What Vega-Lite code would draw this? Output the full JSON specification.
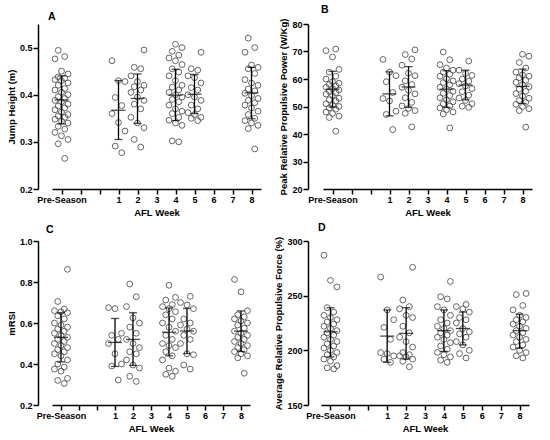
{
  "$schema": "https://vega.github.io/schema/vega-lite/v6.json",
  "padding": {"left": 6, "top": 4, "right": 6, "bottom": 6},
  "background": "white",
  "datasets": {
    "points": [
      {"panel": "A", "week": "Pre-Season", "value": 0.494}, {"panel": "A", "week": "Pre-Season", "value": 0.481}, {"panel": "A", "week": "Pre-Season", "value": 0.476}, {"panel": "A", "week": "Pre-Season", "value": 0.450}, {"panel": "A", "week": "Pre-Season", "value": 0.444}, {"panel": "A", "week": "Pre-Season", "value": 0.438}, {"panel": "A", "week": "Pre-Season", "value": 0.435}, {"panel": "A", "week": "Pre-Season", "value": 0.432}, {"panel": "A", "week": "Pre-Season", "value": 0.430}, {"panel": "A", "week": "Pre-Season", "value": 0.425}, {"panel": "A", "week": "Pre-Season", "value": 0.420}, {"panel": "A", "week": "Pre-Season", "value": 0.413}, {"panel": "A", "week": "Pre-Season", "value": 0.410}, {"panel": "A", "week": "Pre-Season", "value": 0.405}, {"panel": "A", "week": "Pre-Season", "value": 0.400}, {"panel": "A", "week": "Pre-Season", "value": 0.396}, {"panel": "A", "week": "Pre-Season", "value": 0.392}, {"panel": "A", "week": "Pre-Season", "value": 0.388}, {"panel": "A", "week": "Pre-Season", "value": 0.385}, {"panel": "A", "week": "Pre-Season", "value": 0.380}, {"panel": "A", "week": "Pre-Season", "value": 0.376}, {"panel": "A", "week": "Pre-Season", "value": 0.372}, {"panel": "A", "week": "Pre-Season", "value": 0.368}, {"panel": "A", "week": "Pre-Season", "value": 0.363}, {"panel": "A", "week": "Pre-Season", "value": 0.358}, {"panel": "A", "week": "Pre-Season", "value": 0.355}, {"panel": "A", "week": "Pre-Season", "value": 0.352}, {"panel": "A", "week": "Pre-Season", "value": 0.348}, {"panel": "A", "week": "Pre-Season", "value": 0.344}, {"panel": "A", "week": "Pre-Season", "value": 0.340}, {"panel": "A", "week": "Pre-Season", "value": 0.333}, {"panel": "A", "week": "Pre-Season", "value": 0.327}, {"panel": "A", "week": "Pre-Season", "value": 0.320}, {"panel": "A", "week": "Pre-Season", "value": 0.313}, {"panel": "A", "week": "Pre-Season", "value": 0.305}, {"panel": "A", "week": "Pre-Season", "value": 0.296}, {"panel": "A", "week": "Pre-Season", "value": 0.265},
      {"panel": "A", "week": "1", "value": 0.472}, {"panel": "A", "week": "1", "value": 0.430}, {"panel": "A", "week": "1", "value": 0.428}, {"panel": "A", "week": "1", "value": 0.394}, {"panel": "A", "week": "1", "value": 0.377}, {"panel": "A", "week": "1", "value": 0.360}, {"panel": "A", "week": "1", "value": 0.341}, {"panel": "A", "week": "1", "value": 0.323}, {"panel": "A", "week": "1", "value": 0.291}, {"panel": "A", "week": "1", "value": 0.277},
      {"panel": "A", "week": "2", "value": 0.495}, {"panel": "A", "week": "2", "value": 0.458}, {"panel": "A", "week": "2", "value": 0.455}, {"panel": "A", "week": "2", "value": 0.440}, {"panel": "A", "week": "2", "value": 0.428}, {"panel": "A", "week": "2", "value": 0.420}, {"panel": "A", "week": "2", "value": 0.417}, {"panel": "A", "week": "2", "value": 0.410}, {"panel": "A", "week": "2", "value": 0.405}, {"panel": "A", "week": "2", "value": 0.395}, {"panel": "A", "week": "2", "value": 0.388}, {"panel": "A", "week": "2", "value": 0.380}, {"panel": "A", "week": "2", "value": 0.370}, {"panel": "A", "week": "2", "value": 0.352}, {"panel": "A", "week": "2", "value": 0.340}, {"panel": "A", "week": "2", "value": 0.330}, {"panel": "A", "week": "2", "value": 0.305}, {"panel": "A", "week": "2", "value": 0.289},
      {"panel": "A", "week": "4", "value": 0.507}, {"panel": "A", "week": "4", "value": 0.500}, {"panel": "A", "week": "4", "value": 0.492}, {"panel": "A", "week": "4", "value": 0.484}, {"panel": "A", "week": "4", "value": 0.478}, {"panel": "A", "week": "4", "value": 0.472}, {"panel": "A", "week": "4", "value": 0.464}, {"panel": "A", "week": "4", "value": 0.455}, {"panel": "A", "week": "4", "value": 0.448}, {"panel": "A", "week": "4", "value": 0.440}, {"panel": "A", "week": "4", "value": 0.430}, {"panel": "A", "week": "4", "value": 0.420}, {"panel": "A", "week": "4", "value": 0.416}, {"panel": "A", "week": "4", "value": 0.410}, {"panel": "A", "week": "4", "value": 0.405}, {"panel": "A", "week": "4", "value": 0.400}, {"panel": "A", "week": "4", "value": 0.395}, {"panel": "A", "week": "4", "value": 0.390}, {"panel": "A", "week": "4", "value": 0.385}, {"panel": "A", "week": "4", "value": 0.378}, {"panel": "A", "week": "4", "value": 0.370}, {"panel": "A", "week": "4", "value": 0.365}, {"panel": "A", "week": "4", "value": 0.360}, {"panel": "A", "week": "4", "value": 0.352}, {"panel": "A", "week": "4", "value": 0.346}, {"panel": "A", "week": "4", "value": 0.340}, {"panel": "A", "week": "4", "value": 0.335}, {"panel": "A", "week": "4", "value": 0.302}, {"panel": "A", "week": "4", "value": 0.300},
      {"panel": "A", "week": "5", "value": 0.490}, {"panel": "A", "week": "5", "value": 0.455}, {"panel": "A", "week": "5", "value": 0.452}, {"panel": "A", "week": "5", "value": 0.440}, {"panel": "A", "week": "5", "value": 0.436}, {"panel": "A", "week": "5", "value": 0.425}, {"panel": "A", "week": "5", "value": 0.415}, {"panel": "A", "week": "5", "value": 0.410}, {"panel": "A", "week": "5", "value": 0.400}, {"panel": "A", "week": "5", "value": 0.395}, {"panel": "A", "week": "5", "value": 0.388}, {"panel": "A", "week": "5", "value": 0.378}, {"panel": "A", "week": "5", "value": 0.370}, {"panel": "A", "week": "5", "value": 0.362}, {"panel": "A", "week": "5", "value": 0.358}, {"panel": "A", "week": "5", "value": 0.352}, {"panel": "A", "week": "5", "value": 0.350}, {"panel": "A", "week": "5", "value": 0.345},
      {"panel": "A", "week": "8", "value": 0.520}, {"panel": "A", "week": "8", "value": 0.500}, {"panel": "A", "week": "8", "value": 0.490}, {"panel": "A", "week": "8", "value": 0.463}, {"panel": "A", "week": "8", "value": 0.458}, {"panel": "A", "week": "8", "value": 0.455}, {"panel": "A", "week": "8", "value": 0.445}, {"panel": "A", "week": "8", "value": 0.432}, {"panel": "A", "week": "8", "value": 0.425}, {"panel": "A", "week": "8", "value": 0.420}, {"panel": "A", "week": "8", "value": 0.412}, {"panel": "A", "week": "8", "value": 0.408}, {"panel": "A", "week": "8", "value": 0.403}, {"panel": "A", "week": "8", "value": 0.398}, {"panel": "A", "week": "8", "value": 0.392}, {"panel": "A", "week": "8", "value": 0.388}, {"panel": "A", "week": "8", "value": 0.383}, {"panel": "A", "week": "8", "value": 0.378}, {"panel": "A", "week": "8", "value": 0.372}, {"panel": "A", "week": "8", "value": 0.365}, {"panel": "A", "week": "8", "value": 0.358}, {"panel": "A", "week": "8", "value": 0.350}, {"panel": "A", "week": "8", "value": 0.345}, {"panel": "A", "week": "8", "value": 0.340}, {"panel": "A", "week": "8", "value": 0.335}, {"panel": "A", "week": "8", "value": 0.328}, {"panel": "A", "week": "8", "value": 0.285},

      {"panel": "B", "week": "Pre-Season", "value": 70.9}, {"panel": "B", "week": "Pre-Season", "value": 70.3}, {"panel": "B", "week": "Pre-Season", "value": 68.0}, {"panel": "B", "week": "Pre-Season", "value": 63.5}, {"panel": "B", "week": "Pre-Season", "value": 62.5}, {"panel": "B", "week": "Pre-Season", "value": 61.0}, {"panel": "B", "week": "Pre-Season", "value": 60.0}, {"panel": "B", "week": "Pre-Season", "value": 59.0}, {"panel": "B", "week": "Pre-Season", "value": 58.5}, {"panel": "B", "week": "Pre-Season", "value": 58.0}, {"panel": "B", "week": "Pre-Season", "value": 57.5}, {"panel": "B", "week": "Pre-Season", "value": 57.0}, {"panel": "B", "week": "Pre-Season", "value": 56.5}, {"panel": "B", "week": "Pre-Season", "value": 56.0}, {"panel": "B", "week": "Pre-Season", "value": 55.5}, {"panel": "B", "week": "Pre-Season", "value": 55.0}, {"panel": "B", "week": "Pre-Season", "value": 54.5}, {"panel": "B", "week": "Pre-Season", "value": 54.0}, {"panel": "B", "week": "Pre-Season", "value": 53.0}, {"panel": "B", "week": "Pre-Season", "value": 52.5}, {"panel": "B", "week": "Pre-Season", "value": 52.0}, {"panel": "B", "week": "Pre-Season", "value": 51.0}, {"panel": "B", "week": "Pre-Season", "value": 50.5}, {"panel": "B", "week": "Pre-Season", "value": 50.0}, {"panel": "B", "week": "Pre-Season", "value": 49.5}, {"panel": "B", "week": "Pre-Season", "value": 49.0}, {"panel": "B", "week": "Pre-Season", "value": 48.0}, {"panel": "B", "week": "Pre-Season", "value": 47.5}, {"panel": "B", "week": "Pre-Season", "value": 46.5}, {"panel": "B", "week": "Pre-Season", "value": 46.0}, {"panel": "B", "week": "Pre-Season", "value": 41.0},
      {"panel": "B", "week": "1", "value": 67.1}, {"panel": "B", "week": "1", "value": 62.5}, {"panel": "B", "week": "1", "value": 61.2}, {"panel": "B", "week": "1", "value": 59.0}, {"panel": "B", "week": "1", "value": 55.1}, {"panel": "B", "week": "1", "value": 52.9}, {"panel": "B", "week": "1", "value": 52.0}, {"panel": "B", "week": "1", "value": 48.3}, {"panel": "B", "week": "1", "value": 47.1}, {"panel": "B", "week": "1", "value": 41.6},
      {"panel": "B", "week": "2", "value": 70.6}, {"panel": "B", "week": "2", "value": 68.9}, {"panel": "B", "week": "2", "value": 67.3}, {"panel": "B", "week": "2", "value": 65.0}, {"panel": "B", "week": "2", "value": 62.1}, {"panel": "B", "week": "2", "value": 61.2}, {"panel": "B", "week": "2", "value": 59.3}, {"panel": "B", "week": "2", "value": 58.0}, {"panel": "B", "week": "2", "value": 57.0}, {"panel": "B", "week": "2", "value": 55.9}, {"panel": "B", "week": "2", "value": 54.6}, {"panel": "B", "week": "2", "value": 53.2}, {"panel": "B", "week": "2", "value": 51.5}, {"panel": "B", "week": "2", "value": 50.2}, {"panel": "B", "week": "2", "value": 49.3}, {"panel": "B", "week": "2", "value": 48.5}, {"panel": "B", "week": "2", "value": 47.5}, {"panel": "B", "week": "2", "value": 42.6},
      {"panel": "B", "week": "4", "value": 69.8}, {"panel": "B", "week": "4", "value": 67.0}, {"panel": "B", "week": "4", "value": 65.2}, {"panel": "B", "week": "4", "value": 64.0}, {"panel": "B", "week": "4", "value": 63.2}, {"panel": "B", "week": "4", "value": 62.5}, {"panel": "B", "week": "4", "value": 61.7}, {"panel": "B", "week": "4", "value": 61.0}, {"panel": "B", "week": "4", "value": 60.1}, {"panel": "B", "week": "4", "value": 59.3}, {"panel": "B", "week": "4", "value": 58.7}, {"panel": "B", "week": "4", "value": 57.9}, {"panel": "B", "week": "4", "value": 57.0}, {"panel": "B", "week": "4", "value": 56.3}, {"panel": "B", "week": "4", "value": 55.5}, {"panel": "B", "week": "4", "value": 54.8}, {"panel": "B", "week": "4", "value": 54.0}, {"panel": "B", "week": "4", "value": 53.2}, {"panel": "B", "week": "4", "value": 52.4}, {"panel": "B", "week": "4", "value": 51.7}, {"panel": "B", "week": "4", "value": 51.0}, {"panel": "B", "week": "4", "value": 50.2}, {"panel": "B", "week": "4", "value": 49.5}, {"panel": "B", "week": "4", "value": 48.8}, {"panel": "B", "week": "4", "value": 48.0}, {"panel": "B", "week": "4", "value": 47.3}, {"panel": "B", "week": "4", "value": 42.2},
      {"panel": "B", "week": "5", "value": 66.5}, {"panel": "B", "week": "5", "value": 63.2}, {"panel": "B", "week": "5", "value": 62.0}, {"panel": "B", "week": "5", "value": 61.3}, {"panel": "B", "week": "5", "value": 60.0}, {"panel": "B", "week": "5", "value": 59.2}, {"panel": "B", "week": "5", "value": 58.3}, {"panel": "B", "week": "5", "value": 57.5}, {"panel": "B", "week": "5", "value": 56.5}, {"panel": "B", "week": "5", "value": 55.4}, {"panel": "B", "week": "5", "value": 54.1}, {"panel": "B", "week": "5", "value": 53.1}, {"panel": "B", "week": "5", "value": 52.2}, {"panel": "B", "week": "5", "value": 51.0}, {"panel": "B", "week": "5", "value": 50.1}, {"panel": "B", "week": "5", "value": 49.7},
      {"panel": "B", "week": "8", "value": 69.0}, {"panel": "B", "week": "8", "value": 68.3}, {"panel": "B", "week": "8", "value": 66.0}, {"panel": "B", "week": "8", "value": 64.0}, {"panel": "B", "week": "8", "value": 62.5}, {"panel": "B", "week": "8", "value": 61.5}, {"panel": "B", "week": "8", "value": 61.0}, {"panel": "B", "week": "8", "value": 60.5}, {"panel": "B", "week": "8", "value": 59.5}, {"panel": "B", "week": "8", "value": 58.8}, {"panel": "B", "week": "8", "value": 58.0}, {"panel": "B", "week": "8", "value": 57.2}, {"panel": "B", "week": "8", "value": 56.3}, {"panel": "B", "week": "8", "value": 55.5}, {"panel": "B", "week": "8", "value": 54.7}, {"panel": "B", "week": "8", "value": 53.8}, {"panel": "B", "week": "8", "value": 53.0}, {"panel": "B", "week": "8", "value": 52.2}, {"panel": "B", "week": "8", "value": 51.5}, {"panel": "B", "week": "8", "value": 50.8}, {"panel": "B", "week": "8", "value": 50.0}, {"panel": "B", "week": "8", "value": 49.2}, {"panel": "B", "week": "8", "value": 48.5}, {"panel": "B", "week": "8", "value": 42.5},

      {"panel": "C", "week": "Pre-Season", "value": 0.862}, {"panel": "C", "week": "Pre-Season", "value": 0.705}, {"panel": "C", "week": "Pre-Season", "value": 0.668}, {"panel": "C", "week": "Pre-Season", "value": 0.660}, {"panel": "C", "week": "Pre-Season", "value": 0.655}, {"panel": "C", "week": "Pre-Season", "value": 0.650}, {"panel": "C", "week": "Pre-Season", "value": 0.635}, {"panel": "C", "week": "Pre-Season", "value": 0.620}, {"panel": "C", "week": "Pre-Season", "value": 0.600}, {"panel": "C", "week": "Pre-Season", "value": 0.590}, {"panel": "C", "week": "Pre-Season", "value": 0.580}, {"panel": "C", "week": "Pre-Season", "value": 0.570}, {"panel": "C", "week": "Pre-Season", "value": 0.560}, {"panel": "C", "week": "Pre-Season", "value": 0.550}, {"panel": "C", "week": "Pre-Season", "value": 0.540}, {"panel": "C", "week": "Pre-Season", "value": 0.530}, {"panel": "C", "week": "Pre-Season", "value": 0.520}, {"panel": "C", "week": "Pre-Season", "value": 0.510}, {"panel": "C", "week": "Pre-Season", "value": 0.500}, {"panel": "C", "week": "Pre-Season", "value": 0.490}, {"panel": "C", "week": "Pre-Season", "value": 0.480}, {"panel": "C", "week": "Pre-Season", "value": 0.470}, {"panel": "C", "week": "Pre-Season", "value": 0.460}, {"panel": "C", "week": "Pre-Season", "value": 0.450}, {"panel": "C", "week": "Pre-Season", "value": 0.440}, {"panel": "C", "week": "Pre-Season", "value": 0.420}, {"panel": "C", "week": "Pre-Season", "value": 0.400}, {"panel": "C", "week": "Pre-Season", "value": 0.385}, {"panel": "C", "week": "Pre-Season", "value": 0.375}, {"panel": "C", "week": "Pre-Season", "value": 0.365}, {"panel": "C", "week": "Pre-Season", "value": 0.330}, {"panel": "C", "week": "Pre-Season", "value": 0.320}, {"panel": "C", "week": "Pre-Season", "value": 0.305},
      {"panel": "C", "week": "1", "value": 0.675}, {"panel": "C", "week": "1", "value": 0.670}, {"panel": "C", "week": "1", "value": 0.550}, {"panel": "C", "week": "1", "value": 0.540}, {"panel": "C", "week": "1", "value": 0.520}, {"panel": "C", "week": "1", "value": 0.500}, {"panel": "C", "week": "1", "value": 0.450}, {"panel": "C", "week": "1", "value": 0.400}, {"panel": "C", "week": "1", "value": 0.390}, {"panel": "C", "week": "1", "value": 0.322},
      {"panel": "C", "week": "2", "value": 0.790}, {"panel": "C", "week": "2", "value": 0.728}, {"panel": "C", "week": "2", "value": 0.680}, {"panel": "C", "week": "2", "value": 0.625}, {"panel": "C", "week": "2", "value": 0.600}, {"panel": "C", "week": "2", "value": 0.580}, {"panel": "C", "week": "2", "value": 0.550}, {"panel": "C", "week": "2", "value": 0.520}, {"panel": "C", "week": "2", "value": 0.500}, {"panel": "C", "week": "2", "value": 0.480}, {"panel": "C", "week": "2", "value": 0.460}, {"panel": "C", "week": "2", "value": 0.450}, {"panel": "C", "week": "2", "value": 0.420}, {"panel": "C", "week": "2", "value": 0.395}, {"panel": "C", "week": "2", "value": 0.380}, {"panel": "C", "week": "2", "value": 0.340}, {"panel": "C", "week": "2", "value": 0.315},
      {"panel": "C", "week": "4", "value": 0.784}, {"panel": "C", "week": "4", "value": 0.725}, {"panel": "C", "week": "4", "value": 0.712}, {"panel": "C", "week": "4", "value": 0.690}, {"panel": "C", "week": "4", "value": 0.680}, {"panel": "C", "week": "4", "value": 0.670}, {"panel": "C", "week": "4", "value": 0.655}, {"panel": "C", "week": "4", "value": 0.640}, {"panel": "C", "week": "4", "value": 0.620}, {"panel": "C", "week": "4", "value": 0.600}, {"panel": "C", "week": "4", "value": 0.580}, {"panel": "C", "week": "4", "value": 0.560}, {"panel": "C", "week": "4", "value": 0.540}, {"panel": "C", "week": "4", "value": 0.520}, {"panel": "C", "week": "4", "value": 0.500}, {"panel": "C", "week": "4", "value": 0.490}, {"panel": "C", "week": "4", "value": 0.480}, {"panel": "C", "week": "4", "value": 0.460}, {"panel": "C", "week": "4", "value": 0.440}, {"panel": "C", "week": "4", "value": 0.420}, {"panel": "C", "week": "4", "value": 0.380}, {"panel": "C", "week": "4", "value": 0.365}, {"panel": "C", "week": "4", "value": 0.350}, {"panel": "C", "week": "4", "value": 0.340},
      {"panel": "C", "week": "5", "value": 0.730}, {"panel": "C", "week": "5", "value": 0.700}, {"panel": "C", "week": "5", "value": 0.688}, {"panel": "C", "week": "5", "value": 0.670}, {"panel": "C", "week": "5", "value": 0.620}, {"panel": "C", "week": "5", "value": 0.600}, {"panel": "C", "week": "5", "value": 0.590}, {"panel": "C", "week": "5", "value": 0.570}, {"panel": "C", "week": "5", "value": 0.560}, {"panel": "C", "week": "5", "value": 0.540}, {"panel": "C", "week": "5", "value": 0.520}, {"panel": "C", "week": "5", "value": 0.500}, {"panel": "C", "week": "5", "value": 0.450}, {"panel": "C", "week": "5", "value": 0.445}, {"panel": "C", "week": "5", "value": 0.395}, {"panel": "C", "week": "5", "value": 0.375},
      {"panel": "C", "week": "8", "value": 0.812}, {"panel": "C", "week": "8", "value": 0.752}, {"panel": "C", "week": "8", "value": 0.660}, {"panel": "C", "week": "8", "value": 0.640}, {"panel": "C", "week": "8", "value": 0.630}, {"panel": "C", "week": "8", "value": 0.620}, {"panel": "C", "week": "8", "value": 0.610}, {"panel": "C", "week": "8", "value": 0.600}, {"panel": "C", "week": "8", "value": 0.590}, {"panel": "C", "week": "8", "value": 0.575}, {"panel": "C", "week": "8", "value": 0.560}, {"panel": "C", "week": "8", "value": 0.550}, {"panel": "C", "week": "8", "value": 0.540}, {"panel": "C", "week": "8", "value": 0.530}, {"panel": "C", "week": "8", "value": 0.520}, {"panel": "C", "week": "8", "value": 0.510}, {"panel": "C", "week": "8", "value": 0.500}, {"panel": "C", "week": "8", "value": 0.490}, {"panel": "C", "week": "8", "value": 0.480}, {"panel": "C", "week": "8", "value": 0.470}, {"panel": "C", "week": "8", "value": 0.460}, {"panel": "C", "week": "8", "value": 0.450}, {"panel": "C", "week": "8", "value": 0.440}, {"panel": "C", "week": "8", "value": 0.430}, {"panel": "C", "week": "8", "value": 0.355},

      {"panel": "D", "week": "Pre-Season", "value": 287}, {"panel": "D", "week": "Pre-Season", "value": 264}, {"panel": "D", "week": "Pre-Season", "value": 258}, {"panel": "D", "week": "Pre-Season", "value": 239}, {"panel": "D", "week": "Pre-Season", "value": 235}, {"panel": "D", "week": "Pre-Season", "value": 232}, {"panel": "D", "week": "Pre-Season", "value": 230}, {"panel": "D", "week": "Pre-Season", "value": 228}, {"panel": "D", "week": "Pre-Season", "value": 226}, {"panel": "D", "week": "Pre-Season", "value": 224}, {"panel": "D", "week": "Pre-Season", "value": 222}, {"panel": "D", "week": "Pre-Season", "value": 220}, {"panel": "D", "week": "Pre-Season", "value": 218}, {"panel": "D", "week": "Pre-Season", "value": 216}, {"panel": "D", "week": "Pre-Season", "value": 214}, {"panel": "D", "week": "Pre-Season", "value": 212}, {"panel": "D", "week": "Pre-Season", "value": 210}, {"panel": "D", "week": "Pre-Season", "value": 208}, {"panel": "D", "week": "Pre-Season", "value": 206}, {"panel": "D", "week": "Pre-Season", "value": 204}, {"panel": "D", "week": "Pre-Season", "value": 202}, {"panel": "D", "week": "Pre-Season", "value": 200}, {"panel": "D", "week": "Pre-Season", "value": 198}, {"panel": "D", "week": "Pre-Season", "value": 196}, {"panel": "D", "week": "Pre-Season", "value": 194}, {"panel": "D", "week": "Pre-Season", "value": 192}, {"panel": "D", "week": "Pre-Season", "value": 190}, {"panel": "D", "week": "Pre-Season", "value": 186}, {"panel": "D", "week": "Pre-Season", "value": 184}, {"panel": "D", "week": "Pre-Season", "value": 183},
      {"panel": "D", "week": "1", "value": 267}, {"panel": "D", "week": "1", "value": 237}, {"panel": "D", "week": "1", "value": 228}, {"panel": "D", "week": "1", "value": 221}, {"panel": "D", "week": "1", "value": 210}, {"panel": "D", "week": "1", "value": 198}, {"panel": "D", "week": "1", "value": 197}, {"panel": "D", "week": "1", "value": 195}, {"panel": "D", "week": "1", "value": 192}, {"panel": "D", "week": "1", "value": 189},
      {"panel": "D", "week": "2", "value": 276}, {"panel": "D", "week": "2", "value": 246}, {"panel": "D", "week": "2", "value": 240}, {"panel": "D", "week": "2", "value": 238}, {"panel": "D", "week": "2", "value": 232}, {"panel": "D", "week": "2", "value": 230}, {"panel": "D", "week": "2", "value": 222}, {"panel": "D", "week": "2", "value": 216}, {"panel": "D", "week": "2", "value": 212}, {"panel": "D", "week": "2", "value": 208}, {"panel": "D", "week": "2", "value": 203}, {"panel": "D", "week": "2", "value": 198}, {"panel": "D", "week": "2", "value": 196}, {"panel": "D", "week": "2", "value": 195}, {"panel": "D", "week": "2", "value": 194}, {"panel": "D", "week": "2", "value": 192}, {"panel": "D", "week": "2", "value": 190}, {"panel": "D", "week": "2", "value": 185},
      {"panel": "D", "week": "4", "value": 263}, {"panel": "D", "week": "4", "value": 249}, {"panel": "D", "week": "4", "value": 247}, {"panel": "D", "week": "4", "value": 240}, {"panel": "D", "week": "4", "value": 237}, {"panel": "D", "week": "4", "value": 232}, {"panel": "D", "week": "4", "value": 228}, {"panel": "D", "week": "4", "value": 225}, {"panel": "D", "week": "4", "value": 222}, {"panel": "D", "week": "4", "value": 220}, {"panel": "D", "week": "4", "value": 218}, {"panel": "D", "week": "4", "value": 216}, {"panel": "D", "week": "4", "value": 214}, {"panel": "D", "week": "4", "value": 212}, {"panel": "D", "week": "4", "value": 210}, {"panel": "D", "week": "4", "value": 207}, {"panel": "D", "week": "4", "value": 204}, {"panel": "D", "week": "4", "value": 201}, {"panel": "D", "week": "4", "value": 198}, {"panel": "D", "week": "4", "value": 196}, {"panel": "D", "week": "4", "value": 194}, {"panel": "D", "week": "4", "value": 191}, {"panel": "D", "week": "4", "value": 189},
      {"panel": "D", "week": "5", "value": 242}, {"panel": "D", "week": "5", "value": 240}, {"panel": "D", "week": "5", "value": 238}, {"panel": "D", "week": "5", "value": 235}, {"panel": "D", "week": "5", "value": 230}, {"panel": "D", "week": "5", "value": 228}, {"panel": "D", "week": "5", "value": 225}, {"panel": "D", "week": "5", "value": 220}, {"panel": "D", "week": "5", "value": 217}, {"panel": "D", "week": "5", "value": 215}, {"panel": "D", "week": "5", "value": 212}, {"panel": "D", "week": "5", "value": 208}, {"panel": "D", "week": "5", "value": 205}, {"panel": "D", "week": "5", "value": 200}, {"panel": "D", "week": "5", "value": 197}, {"panel": "D", "week": "5", "value": 193},
      {"panel": "D", "week": "8", "value": 252}, {"panel": "D", "week": "8", "value": 251}, {"panel": "D", "week": "8", "value": 241}, {"panel": "D", "week": "8", "value": 237}, {"panel": "D", "week": "8", "value": 232}, {"panel": "D", "week": "8", "value": 230}, {"panel": "D", "week": "8", "value": 228}, {"panel": "D", "week": "8", "value": 226}, {"panel": "D", "week": "8", "value": 224}, {"panel": "D", "week": "8", "value": 222}, {"panel": "D", "week": "8", "value": 220}, {"panel": "D", "week": "8", "value": 218}, {"panel": "D", "week": "8", "value": 216}, {"panel": "D", "week": "8", "value": 214}, {"panel": "D", "week": "8", "value": 212}, {"panel": "D", "week": "8", "value": 210}, {"panel": "D", "week": "8", "value": 208}, {"panel": "D", "week": "8", "value": 205}, {"panel": "D", "week": "8", "value": 203}, {"panel": "D", "week": "8", "value": 200}, {"panel": "D", "week": "8", "value": 198}, {"panel": "D", "week": "8", "value": 195}, {"panel": "D", "week": "8", "value": 193}
    ],
    "summary": [
      {"panel": "A", "week": "Pre-Season", "mean": 0.389, "lo": 0.338, "hi": 0.440},
      {"panel": "A", "week": "1", "mean": 0.367, "lo": 0.305, "hi": 0.430},
      {"panel": "A", "week": "2", "mean": 0.392, "lo": 0.339, "hi": 0.444},
      {"panel": "A", "week": "4", "mean": 0.399, "lo": 0.345, "hi": 0.454},
      {"panel": "A", "week": "5", "mean": 0.401, "lo": 0.360, "hi": 0.443},
      {"panel": "A", "week": "8", "mean": 0.404, "lo": 0.349, "hi": 0.458},
      {"panel": "B", "week": "Pre-Season", "mean": 56.3, "lo": 49.8, "hi": 62.8},
      {"panel": "B", "week": "1", "mean": 54.6, "lo": 46.6, "hi": 62.6},
      {"panel": "B", "week": "2", "mean": 57.1, "lo": 49.7, "hi": 64.5},
      {"panel": "B", "week": "4", "mean": 56.3, "lo": 49.7, "hi": 63.0},
      {"panel": "B", "week": "5", "mean": 57.8, "lo": 52.4, "hi": 63.2},
      {"panel": "B", "week": "8", "mean": 57.3, "lo": 51.1, "hi": 63.6},
      {"panel": "C", "week": "Pre-Season", "mean": 0.530, "lo": 0.410, "hi": 0.650},
      {"panel": "C", "week": "1", "mean": 0.505, "lo": 0.388, "hi": 0.622},
      {"panel": "C", "week": "2", "mean": 0.520, "lo": 0.393, "hi": 0.650},
      {"panel": "C", "week": "4", "mean": 0.555, "lo": 0.440, "hi": 0.673},
      {"panel": "C", "week": "5", "mean": 0.561, "lo": 0.451, "hi": 0.671},
      {"panel": "C", "week": "8", "mean": 0.560, "lo": 0.461, "hi": 0.659},
      {"panel": "D", "week": "Pre-Season", "mean": 217, "lo": 194, "hi": 239},
      {"panel": "D", "week": "1", "mean": 213, "lo": 189, "hi": 237},
      {"panel": "D", "week": "2", "mean": 215.5, "lo": 192, "hi": 239},
      {"panel": "D", "week": "4", "mean": 218, "lo": 199, "hi": 237},
      {"panel": "D", "week": "5", "mean": 220, "lo": 205, "hi": 235},
      {"panel": "D", "week": "8", "mean": 218, "lo": 202, "hi": 233}
    ]
  },
  "columns": 2,
  "spacing": {"column": 42, "row": 52},
  "bounds": "flush",
  "concat": [
    {
      "width": 228, "height": 165,
      "title": {"text": "A", "anchor": "start", "frame": "group", "dx": 10, "offset": 2},
      "encoding": {
        "x": {"field": "week", "type": "ordinal", "scale": {"type": "point", "domain": ["Pre-Season", "_a", "_b", "1", "2", "3", "4", "5", "6", "7", "8"], "range": [14, 223]}, "axis": {"title": "AFL Week", "labelAngle": 0, "labelExpr": "indexof(datum.label, '_') === 0 ? '' : datum.label"}}
      },
      "layer": [
        {
          "data": {"name": "points"},
          "transform": [
            {"filter": "datum.panel === 'A'"},
            {"window": [{"op": "row_number", "as": "r"}], "groupby": ["week"], "sort": [{"field": "value"}]},
            {"calculate": "((datum.r * 3) % 5) - 2", "as": "j"}
          ],
          "mark": {"type": "point", "shape": "circle", "filled": false, "stroke": "#555555", "strokeWidth": 0.9, "size": 34, "opacity": 1},
          "encoding": {
            "xOffset": {"field": "j", "type": "quantitative", "scale": {"domain": [-2, 2], "range": [-6.5, 6.5]}},
            "y": {"field": "value", "type": "quantitative", "scale": {"domain": [0.2, 0.55], "nice": false}, "axis": {"title": "Jump Height (m)", "values": [0.2, 0.3, 0.4, 0.5], "format": ".1f"}}
          }
        },
        {
          "data": {"name": "summary"},
          "transform": [{"filter": "datum.panel === 'A'"}],
          "layer": [
            {"mark": {"type": "rule", "color": "black", "strokeWidth": 1.3}, "encoding": {"y": {"field": "lo", "type": "quantitative", "scale": {"domain": [0.2, 0.55], "nice": false}, "axis": {"title": "Jump Height (m)", "values": [0.2, 0.3, 0.4, 0.5], "format": ".1f"}}, "y2": {"field": "hi"}}},
            {"mark": {"type": "tick", "color": "black", "thickness": 1.3, "size": 8}, "encoding": {"y": {"field": "lo", "type": "quantitative", "scale": {"domain": [0.2, 0.55], "nice": false}, "axis": {"title": "Jump Height (m)", "values": [0.2, 0.3, 0.4, 0.5], "format": ".1f"}}}},
            {"mark": {"type": "tick", "color": "black", "thickness": 1.3, "size": 8}, "encoding": {"y": {"field": "hi", "type": "quantitative", "scale": {"domain": [0.2, 0.55], "nice": false}, "axis": {"title": "Jump Height (m)", "values": [0.2, 0.3, 0.4, 0.5], "format": ".1f"}}}},
            {"mark": {"type": "tick", "color": "black", "thickness": 1.3, "size": 14}, "encoding": {"y": {"field": "mean", "type": "quantitative", "scale": {"domain": [0.2, 0.55], "nice": false}, "axis": {"title": "Jump Height (m)", "values": [0.2, 0.3, 0.4, 0.5], "format": ".1f"}}}}
          ]
        }
      ]
    },
    {
      "width": 228, "height": 165,
      "title": {"text": "B", "anchor": "start", "frame": "group", "dx": 13, "offset": 3},
      "encoding": {
        "x": {"field": "week", "type": "ordinal", "scale": {"type": "point", "domain": ["Pre-Season", "_a", "_b", "1", "2", "3", "4", "5", "6", "7", "8"], "range": [15, 224]}, "axis": {"title": "AFL Week", "labelAngle": 0, "labelExpr": "indexof(datum.label, '_') === 0 ? '' : datum.label"}}
      },
      "layer": [
        {
          "data": {"name": "points"},
          "transform": [
            {"filter": "datum.panel === 'B'"},
            {"window": [{"op": "row_number", "as": "r"}], "groupby": ["week"], "sort": [{"field": "value"}]},
            {"calculate": "((datum.r * 3) % 5) - 2", "as": "j"}
          ],
          "mark": {"type": "point", "shape": "circle", "filled": false, "stroke": "#555555", "strokeWidth": 0.9, "size": 34, "opacity": 1},
          "encoding": {
            "xOffset": {"field": "j", "type": "quantitative", "scale": {"domain": [-2, 2], "range": [-6.5, 6.5]}},
            "y": {"field": "value", "type": "quantitative", "scale": {"domain": [20, 80], "nice": false}, "axis": {"title": "Peak Relative Propulsive Power (W/Kg)", "values": [20, 30, 40, 50, 60, 70, 80]}}
          }
        },
        {
          "data": {"name": "summary"},
          "transform": [{"filter": "datum.panel === 'B'"}],
          "layer": [
            {"mark": {"type": "rule", "color": "black", "strokeWidth": 1.3}, "encoding": {"y": {"field": "lo", "type": "quantitative", "scale": {"domain": [20, 80], "nice": false}, "axis": {"title": "Peak Relative Propulsive Power (W/Kg)", "values": [20, 30, 40, 50, 60, 70, 80]}}, "y2": {"field": "hi"}}},
            {"mark": {"type": "tick", "color": "black", "thickness": 1.3, "size": 8}, "encoding": {"y": {"field": "lo", "type": "quantitative", "scale": {"domain": [20, 80], "nice": false}, "axis": {"title": "Peak Relative Propulsive Power (W/Kg)", "values": [20, 30, 40, 50, 60, 70, 80]}}}},
            {"mark": {"type": "tick", "color": "black", "thickness": 1.3, "size": 8}, "encoding": {"y": {"field": "hi", "type": "quantitative", "scale": {"domain": [20, 80], "nice": false}, "axis": {"title": "Peak Relative Propulsive Power (W/Kg)", "values": [20, 30, 40, 50, 60, 70, 80]}}}},
            {"mark": {"type": "tick", "color": "black", "thickness": 1.3, "size": 14}, "encoding": {"y": {"field": "mean", "type": "quantitative", "scale": {"domain": [20, 80], "nice": false}, "axis": {"title": "Peak Relative Propulsive Power (W/Kg)", "values": [20, 30, 40, 50, 60, 70, 80]}}}}
          ]
        }
      ]
    },
    {
      "width": 228, "height": 164,
      "title": {"text": "C", "anchor": "start", "frame": "group", "dx": 8, "offset": 2},
      "encoding": {
        "x": {"field": "week", "type": "ordinal", "scale": {"type": "point", "domain": ["Pre-Season", "_a", "_b", "1", "2", "3", "4", "5", "6", "7", "8"], "range": [14, 212]}, "axis": {"title": "AFL Week", "labelAngle": 0, "labelExpr": "indexof(datum.label, '_') === 0 ? '' : datum.label"}}
      },
      "layer": [
        {
          "data": {"name": "points"},
          "transform": [
            {"filter": "datum.panel === 'C'"},
            {"window": [{"op": "row_number", "as": "r"}], "groupby": ["week"], "sort": [{"field": "value"}]},
            {"calculate": "((datum.r * 3) % 5) - 2", "as": "j"}
          ],
          "mark": {"type": "point", "shape": "circle", "filled": false, "stroke": "#555555", "strokeWidth": 0.9, "size": 34, "opacity": 1},
          "encoding": {
            "xOffset": {"field": "j", "type": "quantitative", "scale": {"domain": [-2, 2], "range": [-6.5, 6.5]}},
            "y": {"field": "value", "type": "quantitative", "scale": {"domain": [0.2, 1.0], "nice": false}, "axis": {"title": "mRSI", "values": [0.2, 0.4, 0.6, 0.8, 1.0], "format": ".1f"}}
          }
        },
        {
          "data": {"name": "summary"},
          "transform": [{"filter": "datum.panel === 'C'"}],
          "layer": [
            {"mark": {"type": "rule", "color": "black", "strokeWidth": 1.3}, "encoding": {"y": {"field": "lo", "type": "quantitative", "scale": {"domain": [0.2, 1.0], "nice": false}, "axis": {"title": "mRSI", "values": [0.2, 0.4, 0.6, 0.8, 1.0], "format": ".1f"}}, "y2": {"field": "hi"}}},
            {"mark": {"type": "tick", "color": "black", "thickness": 1.3, "size": 8}, "encoding": {"y": {"field": "lo", "type": "quantitative", "scale": {"domain": [0.2, 1.0], "nice": false}, "axis": {"title": "mRSI", "values": [0.2, 0.4, 0.6, 0.8, 1.0], "format": ".1f"}}}},
            {"mark": {"type": "tick", "color": "black", "thickness": 1.3, "size": 8}, "encoding": {"y": {"field": "hi", "type": "quantitative", "scale": {"domain": [0.2, 1.0], "nice": false}, "axis": {"title": "mRSI", "values": [0.2, 0.4, 0.6, 0.8, 1.0], "format": ".1f"}}}},
            {"mark": {"type": "tick", "color": "black", "thickness": 1.3, "size": 14}, "encoding": {"y": {"field": "mean", "type": "quantitative", "scale": {"domain": [0.2, 1.0], "nice": false}, "axis": {"title": "mRSI", "values": [0.2, 0.4, 0.6, 0.8, 1.0], "format": ".1f"}}}}
          ]
        }
      ]
    },
    {
      "width": 228, "height": 164,
      "title": {"text": "D", "anchor": "start", "frame": "group", "dx": 10, "offset": 3},
      "encoding": {
        "x": {"field": "week", "type": "ordinal", "scale": {"type": "point", "domain": ["Pre-Season", "_a", "_b", "1", "2", "3", "4", "5", "6", "7", "8"], "range": [13, 221]}, "axis": {"title": "AFL Week", "labelAngle": 0, "labelExpr": "indexof(datum.label, '_') === 0 ? '' : datum.label"}}
      },
      "layer": [
        {
          "data": {"name": "points"},
          "transform": [
            {"filter": "datum.panel === 'D'"},
            {"window": [{"op": "row_number", "as": "r"}], "groupby": ["week"], "sort": [{"field": "value"}]},
            {"calculate": "((datum.r * 3) % 5) - 2", "as": "j"}
          ],
          "mark": {"type": "point", "shape": "circle", "filled": false, "stroke": "#555555", "strokeWidth": 0.9, "size": 34, "opacity": 1},
          "encoding": {
            "xOffset": {"field": "j", "type": "quantitative", "scale": {"domain": [-2, 2], "range": [-6.5, 6.5]}},
            "y": {"field": "value", "type": "quantitative", "scale": {"domain": [150, 300], "nice": false}, "axis": {"title": "Average Relative Propulsive Force (%)", "values": [150, 200, 250, 300]}}
          }
        },
        {
          "data": {"name": "summary"},
          "transform": [{"filter": "datum.panel === 'D'"}],
          "layer": [
            {"mark": {"type": "rule", "color": "black", "strokeWidth": 1.3}, "encoding": {"y": {"field": "lo", "type": "quantitative", "scale": {"domain": [150, 300], "nice": false}, "axis": {"title": "Average Relative Propulsive Force (%)", "values": [150, 200, 250, 300]}}, "y2": {"field": "hi"}}},
            {"mark": {"type": "tick", "color": "black", "thickness": 1.3, "size": 8}, "encoding": {"y": {"field": "lo", "type": "quantitative", "scale": {"domain": [150, 300], "nice": false}, "axis": {"title": "Average Relative Propulsive Force (%)", "values": [150, 200, 250, 300]}}}},
            {"mark": {"type": "tick", "color": "black", "thickness": 1.3, "size": 8}, "encoding": {"y": {"field": "hi", "type": "quantitative", "scale": {"domain": [150, 300], "nice": false}, "axis": {"title": "Average Relative Propulsive Force (%)", "values": [150, 200, 250, 300]}}}},
            {"mark": {"type": "tick", "color": "black", "thickness": 1.3, "size": 14}, "encoding": {"y": {"field": "mean", "type": "quantitative", "scale": {"domain": [150, 300], "nice": false}, "axis": {"title": "Average Relative Propulsive Force (%)", "values": [150, 200, 250, 300]}}}}
          ]
        }
      ]
    }
  ],
  "config": {
    "view": {"stroke": null},
    "font": "Liberation Sans",
    "axis": {
      "grid": false,
      "domainColor": "black",
      "domainWidth": 1.5,
      "tickColor": "black",
      "tickWidth": 1.5,
      "tickSize": 5,
      "labelFont": "Liberation Sans",
      "labelFontWeight": "bold",
      "labelFontSize": 9,
      "labelColor": "black",
      "labelPadding": 1,
      "labelOverlap": false,
      "titleFont": "Liberation Sans",
      "titleFontWeight": "bold",
      "titleFontSize": 9.5,
      "titleColor": "black",
      "titlePadding": 3
    },
    "title": {"font": "Liberation Sans", "fontSize": 10.5, "fontWeight": "bold", "color": "black"}
  }
}
